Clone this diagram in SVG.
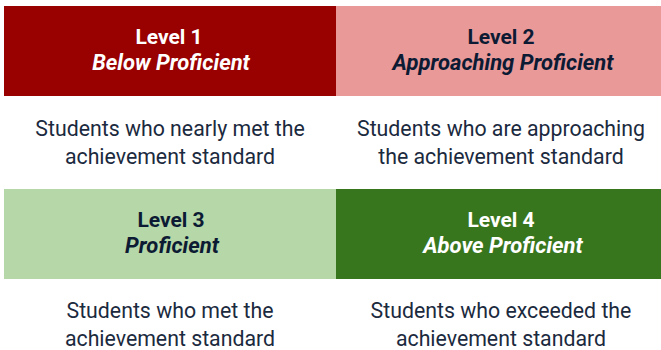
<svg xmlns="http://www.w3.org/2000/svg" width="661" height="350" viewBox="0 0 661 350">
<style>
.t{font-family:Roboto,"Liberation Sans",sans-serif;font-size:21px;font-weight:700;text-anchor:middle}
.i{font-style:italic;font-size:22px}
.d{font-family:Roboto,"Liberation Sans",sans-serif;font-size:21.3px;text-anchor:middle;fill:#1b2a3e}
.w{fill:#ffffff}
.n{fill:#0c1b33}
</style>
<rect width="661" height="350" fill="#ffffff"/>
<g id="level1">
<rect x="4" y="6" width="332" height="90" fill="#990000"/>
<text class="t w" x="169" y="44">Level 1</text>
<text class="t w i" x="171" y="70">Below Proficient</text>
<text class="d" x="170" y="136">Students who nearly met the</text>
<text class="d" x="170" y="164">achievement standard</text>
</g>
<g id="level2">
<rect x="336" y="6" width="325" height="90" fill="#ea9999"/>
<text class="t n" x="501" y="44">Level 2</text>
<text class="t n i" x="503" y="70">Approaching Proficient</text>
<text class="d" x="501" y="136">Students who are approaching</text>
<text class="d" x="501" y="164">the achievement standard</text>
</g>
<g id="level3">
<rect x="4" y="189" width="332" height="90" fill="#b6d7a8"/>
<text class="t n" x="171" y="227">Level 3</text>
<text class="t n i" x="172" y="253">Proficient</text>
<text class="d" x="170" y="318">Students who met the</text>
<text class="d" x="170" y="346">achievement standard</text>
</g>
<g id="level4">
<rect x="336" y="189" width="325" height="90" fill="#38761d"/>
<text class="t w" x="501" y="227">Level 4</text>
<text class="t w i" x="503" y="253">Above Proficient</text>
<text class="d" x="501" y="318">Students who exceeded the</text>
<text class="d" x="501" y="346">achievement standard</text>
</g>
<g id="connectors"></g>
</svg>
